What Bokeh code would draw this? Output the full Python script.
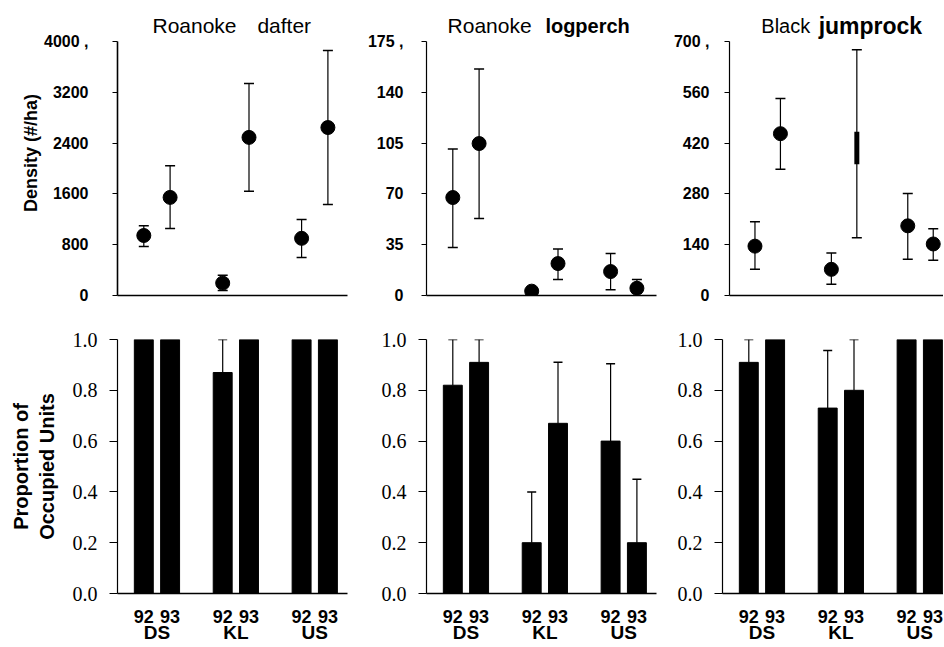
import math
from bokeh.plotting import figure
from bokeh.layouts import row, column
from bokeh.models import (FixedTicker, LinearAxis, Range1d, Whisker, TeeHead,
                          ColumnDataSource, PrintfTickFormatter)
from bokeh.core.properties import value
from bokeh.embed import file_html
from bokeh.resources import INLINE

NaN = float("nan")

# ---------------- data ----------------
positions = [1, 2, 4, 5, 7, 8]
years = ["92", "93", "92", "93", "92", "93"]
sites = ["DS", "KL", "US"]
site_centers = [1.5, 4.5, 7.5]

title_first = ["Roanoke", "Roanoke", "Black"]
title_second = ["dafter", "logperch", "jumprock"]

density_label = "Density (#/ha)"
occupancy_label = "Proportion of\nOccupied Units"

darter_ticks = [0, 800, 1600, 2400, 3200, 4000]
darter_top = 4000
logperch_ticks = [0, 35, 70, 105, 140, 175]
logperch_top = 175
jumprock_ticks = [0, 140, 280, 420, 560, 700]
jumprock_top = 700
occ_ticks = [0.0, 0.2, 0.4, 0.6, 0.8, 1.0]

darter_density = [945, 1545, 195, 2490, 900, 2645]
darter_upper = [1100, 2045, 320, 3340, 1195, 3860]
darter_lower = [770, 1055, 80, 1640, 600, 1435]

logperch_density = [67.5, 104.7, 3, 22, 16.5, 5]
logperch_upper = [101, 156, 4, 32, 29, 11]
logperch_lower = [33, 53, 2, 11, 4, 1.5]

jumprock_density = [136, 446, 72, NaN, 192, 142]
jumprock_upper = [203, 543, 117, 677, 281, 184]
jumprock_lower = [72, 348, 31, 159, 100, 97]
jumprock_kl93_blot = [362, 451]

darter_occ = [1.0, 1.0, 0.87, 1.0, 1.0, 1.0]
darter_occ_upper = [NaN, NaN, 1.0, NaN, NaN, NaN]
logperch_occ = [0.82, 0.91, 0.20, 0.67, 0.60, 0.20]
logperch_occ_upper = [1.0, 1.0, 0.40, 0.91, 0.905, 0.45]
jumprock_occ = [0.91, 1.0, 0.73, 0.80, 1.0, 1.0]
jumprock_occ_upper = [1.0, NaN, 0.957, 1.0, NaN, NaN]

# ---------------- layout constants ----------------
SANS = "Liberation Sans"
SERIF = "Liberation Serif"
FRAME_H = 254          # px from 0 to the top tick value
TOP_EXTRA = 31         # px of frame above the top tick (title strip)
TOP_H = 305
BOT_H = 341

cols = [
    dict(width=360, left=117, right=13, xmax=230 / 26.3),
    dict(width=310, left=66, right=14, xmax=230 / 26.3),
    dict(width=273, left=52, right=0, xmax=221 / 26.3),
]
top_label_std = [24, 18, 15]
title_x = [(1.33, 5.32), (0.80, 4.52), (1.25, 3.5)]
title_bold = [(False, False), (False, True), (False, True)]
title_size = [("21px", "21px"), ("21px", "20px"), ("20px", "23px")]
title_rise = 16        # px above top tick

tops = [darter_top, logperch_top, jumprock_top]
ticks = [darter_ticks, logperch_ticks, jumprock_ticks]
dens = [darter_density, logperch_density, jumprock_density]
ups = [darter_upper, logperch_upper, jumprock_upper]
lows = [darter_lower, logperch_lower, jumprock_lower]
occs = [darter_occ, logperch_occ, jumprock_occ]
occ_ups = [darter_occ_upper, logperch_occ_upper, jumprock_occ_upper]


def base_fig(c, h, top, bottom, ymax, ymin=0):
    p = figure(width=c["width"], height=h,
               x_range=Range1d(0, c["xmax"]), y_range=Range1d(ymin, ymax),
               x_axis_type=None, y_axis_type=None,
               output_backend="svg", toolbar_location=None,
               min_border_left=c["left"], min_border_right=c["right"],
               min_border_top=top, min_border_bottom=bottom)
    p.outline_line_color = None
    p.background_fill_color = "white"
    p.border_fill_color = "white"
    return p


def plain_axis(ax):
    ax.major_tick_in = 0
    ax.minor_tick_out = 0
    ax.minor_tick_in = 0
    ax.major_label_text_color = "black"
    ax.axis_line_color = "black"
    ax.major_tick_line_color = "black"
    ax.axis_label_text_color = "black"


top_figs = []
for i, c in enumerate(cols):
    ymax = tops[i]
    frame_top_val = ymax * (FRAME_H + TOP_EXTRA) / FRAME_H
    p = base_fig(c, TOP_H, 10, 10, frame_top_val)
    ya = LinearAxis(ticker=FixedTicker(ticks=ticks[i]), bounds=(0, ymax),
                    major_label_overrides={ymax: f"{ymax} ,"})
    plain_axis(ya)
    ya.axis_line_width = 1.6 if i == 0 else 1.2
    ya.major_tick_out = 5
    ya.major_tick_line_width = 1.2
    ya.major_label_standoff = top_label_std[i]
    ya.major_label_text_font = SANS
    ya.major_label_text_font_style = "bold"
    ya.major_label_text_font_size = "16px"
    if i == 0:
        ya.axis_label = density_label
        ya.axis_label_text_font = SANS
        ya.axis_label_text_font_style = "bold"
        ya.axis_label_text_font_size = "18px"
        ya.axis_label_standoff = 0
    p.add_layout(ya, "left")
    xa = LinearAxis(ticker=FixedTicker(ticks=[]))
    plain_axis(xa)
    xa.axis_line_width = 1.6
    xa.major_tick_out = 0
    xa.major_label_standoff = 0
    p.add_layout(xa, "below")

    src = ColumnDataSource(dict(x=positions, y=dens[i], upper=ups[i], lower=lows[i]))
    p.add_layout(Whisker(base="x", upper="upper", lower="lower", source=src,
                         line_color="black", line_width=1.2,
                         upper_head=TeeHead(size=10, line_color="black", line_width=1.5),
                         lower_head=TeeHead(size=10, line_color="black", line_width=1.5)))
    p.scatter("x", "y", source=src, size=14, color="black")
    if i == 2:
        p.segment(x0=[positions[3]], x1=[positions[3]],
                  y0=[jumprock_kl93_blot[0]], y1=[jumprock_kl93_blot[1]],
                  line_width=5, line_color="black")

    ty = ymax * (FRAME_H + title_rise) / FRAME_H
    for k in range(2):
        txt = title_first[i] if k == 0 else title_second[i]
        p.text(x=[title_x[i][k]], y=[ty], text=[txt],
               text_font=value(SANS), text_font_size=title_size[i][k],
               text_font_style="bold" if title_bold[i][k] else "normal",
               text_align="left", text_baseline="middle", text_color="black")
    top_figs.append(p)

bot_figs = []
for i, c in enumerate(cols):
    p = base_fig(c, BOT_H, 34, 53, 1.0)
    ya = LinearAxis(ticker=FixedTicker(ticks=occ_ticks),
                    formatter=PrintfTickFormatter(format="%.1f"))
    plain_axis(ya)
    ya.axis_line_width = 1.2
    ya.major_tick_out = 8
    ya.major_label_standoff = 12
    ya.major_label_text_font = SERIF
    ya.major_label_text_font_size = "20px"
    if i == 0:
        ya.axis_label = occupancy_label
        ya.axis_label_text_font = SANS
        ya.axis_label_text_font_style = "bold"
        ya.axis_label_text_font_size = "20px"
        ya.axis_label_text_line_height = 1.15
        ya.axis_label_standoff = 12
    p.add_layout(ya, "left")

    xa = LinearAxis(ticker=FixedTicker(ticks=positions),
                    major_label_overrides={pp: yy for pp, yy in zip(positions, years)})
    plain_axis(xa)
    xa.axis_line_width = 1.4
    xa.major_tick_out = 0
    xa.major_label_standoff = 16
    xa.major_label_text_font = SANS
    xa.major_label_text_font_style = "bold"
    xa.major_label_text_font_size = "18px"
    p.add_layout(xa, "below")

    sa = LinearAxis(ticker=FixedTicker(ticks=site_centers),
                    major_label_overrides={sc: s for sc, s in zip(site_centers, sites)})
    plain_axis(sa)
    sa.axis_line_color = None
    sa.major_tick_out = 0
    sa.major_label_standoff = -4
    sa.major_label_text_font = SANS
    sa.major_label_text_font_style = "bold"
    sa.major_label_text_font_size = "19px"
    p.add_layout(sa, "below")

    p.vbar(x=positions, top=occs[i], width=0.72, bottom=0,
           fill_color="black", line_color="black")
    ex = [pp for pp, u in zip(positions, occ_ups[i]) if not math.isnan(u)]
    ev = [v for v, u in zip(occs[i], occ_ups[i]) if not math.isnan(u)]
    eu = [u for u in occ_ups[i] if not math.isnan(u)]
    esrc = ColumnDataSource(dict(x=ex, lower=ev, upper=eu))
    p.add_layout(Whisker(base="x", upper="upper", lower="lower", source=esrc,
                         line_color="black", line_width=1.2, level="overlay",
                         upper_head=TeeHead(size=9, line_color="black", line_width=1.5),
                         lower_head=None))
    bot_figs.append(p)

layout = column(row(*top_figs), row(*bot_figs))
open("out.html", "w").write(file_html(layout, INLINE))
